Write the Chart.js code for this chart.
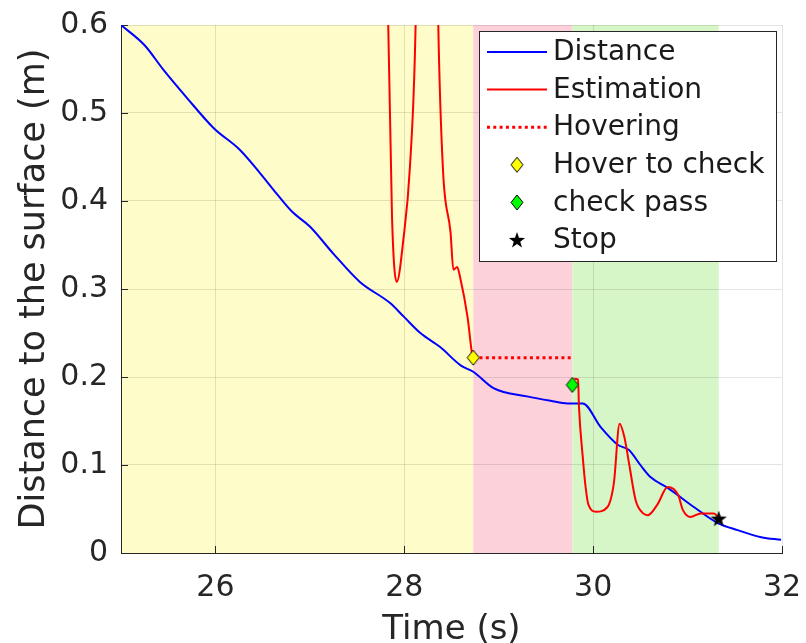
<!DOCTYPE html>
<html>
<head>
<meta charset="utf-8">
<title>Distance to the surface</title>
<script src="https://cdn.jsdelivr.net/npm/chart.js@4.4.1/dist/chart.umd.min.js"></script>
<style>
  html, body { margin: 0; padding: 0; background: #fff; }
  #wrap { width: 806px; height: 643px; position: relative; }
</style>
</head>
<body>
<div id="wrap"><canvas id="grafico"></canvas></div>
<script>
// measured distance (blue)
const distTime = [25.00, 25.25, 25.45, 25.70, 25.98, 26.26, 26.47, 26.65, 26.81, 27.00, 27.25, 27.53, 27.85, 28.00, 28.17, 28.38, 28.60, 28.73, 28.95, 29.30, 29.55, 29.73, 29.89, 30.08, 30.26, 30.38, 30.50, 30.61, 30.79, 31.07, 31.32, 31.53, 31.78, 31.99];
const distValue = [0.600, 0.577, 0.549, 0.517, 0.483, 0.458, 0.432, 0.408, 0.388, 0.371, 0.340, 0.308, 0.284, 0.268, 0.250, 0.234, 0.213, 0.206, 0.187, 0.178, 0.173, 0.170, 0.170, 0.143, 0.123, 0.117, 0.100, 0.086, 0.074, 0.052, 0.034, 0.026, 0.018, 0.015];

// estimation before hovering (goes off the top of the axes)
const estTimeA = [27.80, 27.83, 27.87, 27.92, 27.99, 28.06, 28.12, 28.16, 28.32, 28.36, 28.41, 28.49, 28.52, 28.56, 28.59, 28.67, 28.72, 28.73];
const estValueA = [0.90, 0.60, 0.382, 0.308, 0.356, 0.439, 0.60, 0.90, 0.90, 0.60, 0.435, 0.364, 0.322, 0.325, 0.314, 0.268, 0.225, 0.222];

// estimation after the check passed
const estTimeB = [29.80, 29.84, 29.85, 29.89, 29.92, 29.95, 30.03, 30.15, 30.22, 30.28, 30.33, 30.38, 30.45, 30.53, 30.58, 30.68, 30.79, 30.90, 30.95, 31.03, 31.14, 31.28, 31.33];
const estValueB = [0.198, 0.197, 0.166, 0.109, 0.075, 0.055, 0.047, 0.052, 0.080, 0.147, 0.132, 0.102, 0.060, 0.045, 0.043, 0.055, 0.075, 0.066, 0.049, 0.041, 0.045, 0.045, 0.040];

// hovering segment
const hoverLineTime = [28.73, 29.78];
const hoverLineValue = [0.222, 0.222];

// events
const hoverCheckTime = [28.73];
const hoverCheckValue = [0.222];
const checkPassTime = [29.78];
const checkPassValue = [0.191];
const stopTime = [31.33];
const stopValue = [0.039];

// phases (shaded background)
const phaseStart = [25.0, 28.73, 29.78];
const phaseEnd = [28.73, 29.78, 31.33];
const phaseColor = ['#fefcc8', '#fdd1d9', '#d7f6c8'];

const xTicks = [26, 28, 30, 32];
const yTicks = [0, 0.1, 0.2, 0.3, 0.4, 0.5, 0.6];

const FONTE = '"DejaVu Sans", sans-serif';
const COR_TEXTO = '#262626';

function pares(xs, ys) {
    return xs.map((x, i) => ({ x: x, y: ys[i] }));
}

// marcadores desenhados num canvas próprio
function marcadorLosango(cor) {
    const c = document.createElement('canvas');
    c.width = 14; c.height = 17;
    const g = c.getContext('2d');
    g.beginPath();
    g.moveTo(7, 1); g.lineTo(13, 8.5); g.lineTo(7, 16); g.lineTo(1, 8.5); g.closePath();
    g.fillStyle = cor; g.fill();
    g.strokeStyle = '#000'; g.lineWidth = 1; g.stroke();
    return c;
}

function marcadorEstrela() {
    const c = document.createElement('canvas');
    c.width = 18; c.height = 18;
    const g = c.getContext('2d');
    const cx = 9, cy = 9.6, R = 8.5, r = 3.4;
    g.beginPath();
    for (let i = 0; i < 10; i++) {
        const a = -Math.PI / 2 + i * Math.PI / 5;
        const rr = i % 2 === 0 ? R : r;
        g.lineTo(cx + rr * Math.cos(a), cy + rr * Math.sin(a));
    }
    g.closePath();
    g.fillStyle = '#000'; g.fill();
    return c;
}

const losangoAmarelo = marcadorLosango('#ffff00');
const losangoVerde = marcadorLosango('#00ff00');
const estrela = marcadorEstrela();

// fundo colorido por fase
const pluginFases = {
    id: 'fases',
    beforeDraw(chart) {
        const { ctx, chartArea, scales } = chart;
        ctx.save();
        for (let i = 0; i < phaseStart.length; i++) {
            const x0 = scales.x.getPixelForValue(phaseStart[i]);
            const x1 = scales.x.getPixelForValue(phaseEnd[i]);
            ctx.fillStyle = phaseColor[i];
            ctx.fillRect(x0, chartArea.top, x1 - x0, chartArea.bottom - chartArea.top);
        }
        ctx.restore();
    },
    beforeDatasetsDraw(chart) {
        // ticks para dentro
        const { ctx, chartArea, scales } = chart;
        ctx.save();
        ctx.strokeStyle = COR_TEXTO;
        ctx.lineWidth = 1;
        ctx.beginPath();
        for (const v of xTicks) {
            const x = Math.round(scales.x.getPixelForValue(v)) + 0.5;
            ctx.moveTo(x, chartArea.bottom);
            ctx.lineTo(x, chartArea.bottom - 7);
        }
        for (const v of yTicks) {
            const y = Math.round(scales.y.getPixelForValue(v)) + 0.5;
            ctx.moveTo(chartArea.left, y);
            ctx.lineTo(chartArea.left + 7, y);
        }
        ctx.stroke();
        ctx.restore();
    }
};

// legenda em caixa dentro do gráfico
const pluginLegenda = {
    id: 'legendaCaixa',
    afterDraw(chart) {
        const ctx = chart.ctx;
        const bx = 479.5, by = 31.5, bw = 297, bh = 230;
        ctx.save();
        ctx.fillStyle = '#fff';
        ctx.fillRect(bx, by, bw, bh);
        ctx.strokeStyle = '#262626';
        ctx.lineWidth = 1;
        ctx.strokeRect(bx, by, bw, bh);

        ctx.font = '28px ' + FONTE;
        ctx.textBaseline = 'middle';
        ctx.textAlign = 'left';
        chart.data.datasets.forEach((ds, i) => {
            const y = 52 + i * 37.6;
            if (ds.showLine) {
                ctx.save();
                ctx.strokeStyle = ds.borderColor;
                ctx.lineWidth = ds.borderWidth;
                ctx.setLineDash(ds.borderDash || []);
                ctx.beginPath();
                ctx.moveTo(487, y);
                ctx.lineTo(547, y);
                ctx.stroke();
                ctx.restore();
            } else {
                const img = ds.pointStyle;
                ctx.drawImage(img, 517 - img.width / 2, y - img.height / 2);
            }
            ctx.fillStyle = '#1a1a1a';
            ctx.fillText(ds.label, 553, y + 1);
        });
        ctx.restore();
    }
};

const ctx = document.getElementById('grafico').getContext('2d');

new Chart(ctx, {
    type: 'scatter',
    data: {
        datasets: [
            {
                label: 'Distance',
                data: pares(distTime, distValue),
                showLine: true,
                borderColor: '#0000ff',
                borderWidth: 2,
                pointRadius: 0,
                cubicInterpolationMode: 'monotone',
                order: 4
            },
            {
                label: 'Estimation',
                data: pares(estTimeA, estValueA).concat([{ x: 29.0, y: null }], pares(estTimeB, estValueB)),
                showLine: true,
                spanGaps: false,
                borderColor: '#ff0000',
                borderWidth: 2,
                pointRadius: 0,
                cubicInterpolationMode: 'monotone',
                order: 3
            },
            {
                label: 'Hovering',
                data: pares(hoverLineTime, hoverLineValue),
                showLine: true,
                borderColor: '#ff0000',
                borderWidth: 3,
                borderDash: [3, 3.3],
                pointRadius: 0,
                order: 2
            },
            {
                label: 'Hover to check',
                data: pares(hoverCheckTime, hoverCheckValue),
                showLine: false,
                pointStyle: losangoAmarelo,
                pointRadius: 8,
                order: 1
            },
            {
                label: 'check pass',
                data: pares(checkPassTime, checkPassValue),
                showLine: false,
                pointStyle: losangoVerde,
                pointRadius: 8,
                order: 1
            },
            {
                label: 'Stop',
                data: pares(stopTime, stopValue),
                showLine: false,
                pointStyle: estrela,
                pointRadius: 8,
                order: 1
            }
        ]
    },
    options: {
        responsive: true,
        maintainAspectRatio: false,
        animation: false,
        layout: { padding: { left: 0, right: 24, top: 25, bottom: 0 } },
        plugins: {
            legend: { display: false },
            tooltip: { enabled: false }
        },
        scales: {
            x: {
                type: 'linear',
                min: 25,
                max: 32,
                afterBuildTicks: (scale) => { scale.ticks = xTicks.map(v => ({ value: v })); },
                afterFit: (scale) => {
                    scale.height = 90;
                    scale.paddingLeft = 0;
                    scale.paddingRight = 0;
                },
                grid: { color: 'rgba(38,38,38,0.13)', drawTicks: false },
                border: { color: COR_TEXTO, width: 1 },
                ticks: {
                    color: COR_TEXTO,
                    font: { family: FONTE, size: 30 },
                    padding: 17,
                    maxRotation: 0,
                    callback: (v) => String(v)
                },
                title: {
                    display: true,
                    text: 'Time (s)',
                    color: COR_TEXTO,
                    font: { family: FONTE, size: 34, lineHeight: 1 },
                    padding: { top: 0, bottom: -4 }
                }
            },
            y: {
                type: 'linear',
                min: 0,
                max: 0.6,
                afterBuildTicks: (scale) => { scale.ticks = yTicks.map(v => ({ value: v })); },
                afterFit: (scale) => {
                    scale.width = 121;
                    scale.paddingTop = 0;
                    scale.paddingBottom = 0;
                },
                grid: { color: 'rgba(38,38,38,0.13)', drawTicks: false },
                border: { color: COR_TEXTO, width: 1 },
                ticks: {
                    color: COR_TEXTO,
                    font: { family: FONTE, size: 30 },
                    padding: 13,
                    callback: (v) => String(+v.toFixed(1))
                },
                title: {
                    display: true,
                    text: 'Distance to the surface (m)',
                    color: COR_TEXTO,
                    font: { family: FONTE, size: 35, lineHeight: 1 },
                    padding: { top: 17, bottom: 0 }
                }
            }
        }
    },
    plugins: [pluginFases, pluginLegenda]
});
</script>
</body>
</html>
